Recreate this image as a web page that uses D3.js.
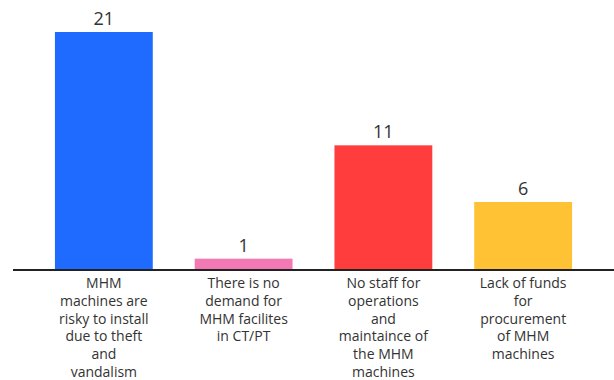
<!DOCTYPE html>
<html>
<head>
<meta charset="utf-8">
<script src="https://cdn.jsdelivr.net/npm/d3@7"></script>
<style>
  body { margin: 0; background: #fff; }
  text { font-family: "Open Sans", "Liberation Sans", sans-serif; fill: #333; }
</style>
</head>
<body>
<svg width="614" height="380"></svg>
<script>
// category labels, already broken into lines as in the picture
var categories = [
  ["MHM", "machines are", "risky to install", "due to theft", "and", "vandalism"],
  ["There is no", "demand for", "MHM facilites", "in CT/PT"],
  ["No staff for", "operations", "and", "maintaince of", "the MHM", "machines"],
  ["Lack of funds", "for", "procurement", "of MHM", "machines"]
];
var values = [21, 1, 11, 6];
var colors = ["#1f6bff", "#f279b4", "#ff3d3d", "#fec234"];

var svg = d3.select("svg");
var baseY = 270;

var x = d3.scaleBand()
    .domain(d3.range(values.length))
    .range([13, 614])
    .paddingInner(0.3)
    .paddingOuter(0.3);

// 21 -> 238px tall
var y = d3.scaleLinear()
    .domain([0, 21])
    .range([baseY, 32]);

svg.selectAll("rect.bar").data(values).enter().append("rect")
    .attr("class", "bar")
    .attr("x", function(d, i) { return x(i); })
    .attr("y", function(d) { return y(d); })
    .attr("width", x.bandwidth())
    .attr("height", function(d) { return baseY - y(d); })
    .style("fill", function(d, i) { return colors[i]; });

// value labels above bars
svg.selectAll("text.val").data(values).enter().append("text")
    .attr("class", "val")
    .attr("x", function(d, i) { return x(i) + x.bandwidth() / 2; })
    .attr("y", function(d) { return y(d) - 7; })
    .style("text-anchor", "middle")
    .style("font-size", "18px")
    .text(function(d) { return d; });

// baseline
svg.append("line")
    .attr("x1", 13).attr("x2", 614)
    .attr("y1", baseY).attr("y2", baseY)
    .style("stroke", "#222")
    .style("stroke-width", 2);

// category labels
var lbl = svg.selectAll("text.cat").data(categories).enter().append("text")
    .attr("class", "cat")
    .style("text-anchor", "middle")
    .style("font-size", "14px");

lbl.selectAll("tspan").data(function(d, i) {
    return d.map(function(s) { return {s: s, i: i}; });
  }).enter().append("tspan")
    .attr("x", function(d) { return x(d.i) + x.bandwidth() / 2; })
    .attr("y", function(d, j) { return 288 + j * 17.8; })
    .text(function(d) { return d.s; });
</script>
</body>
</html>
